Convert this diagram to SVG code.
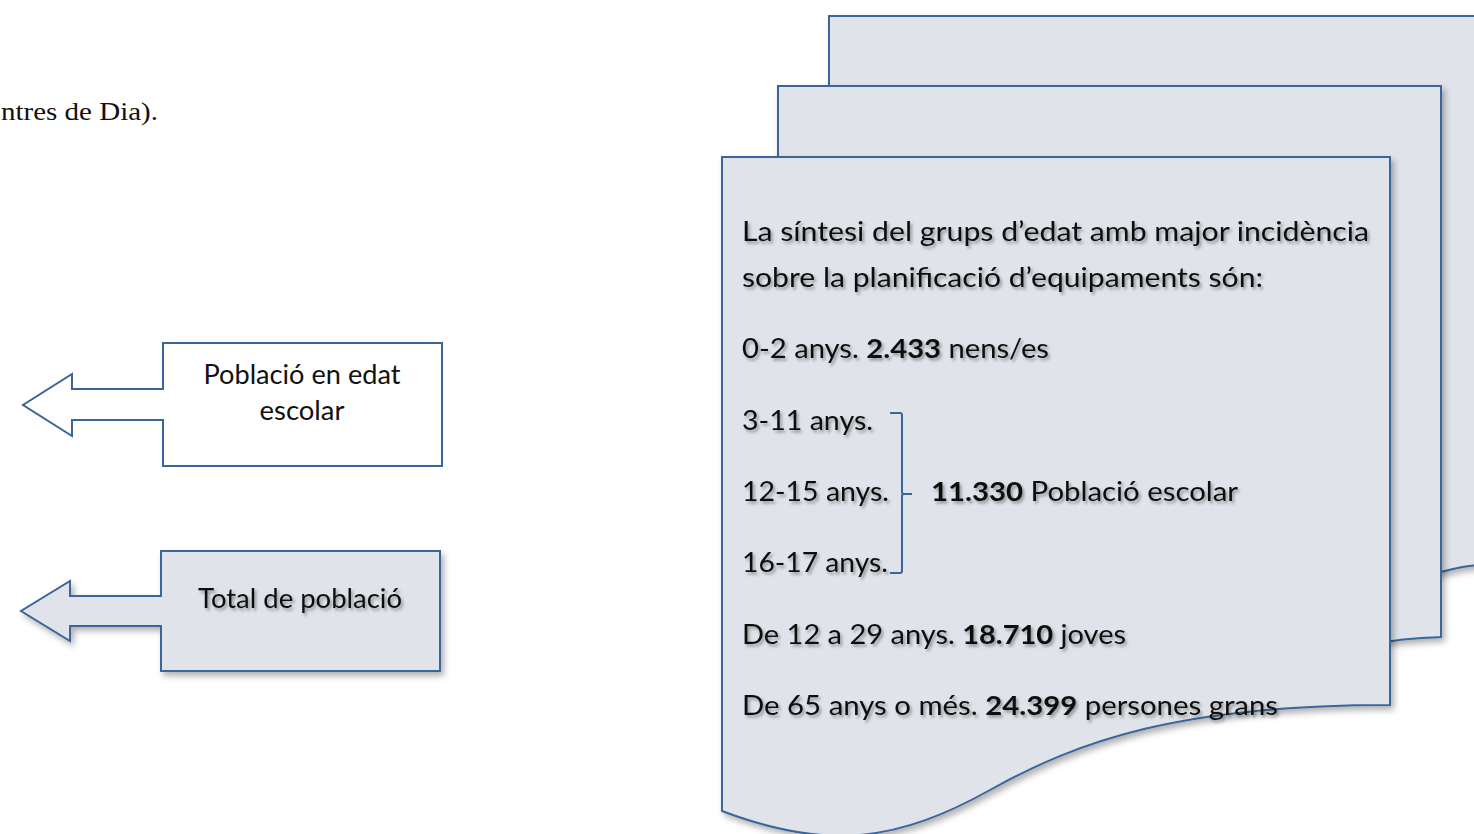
<svg xmlns="http://www.w3.org/2000/svg" width="1474" height="834" viewBox="0 0 1474 834">
<defs>
<filter id="sh" x="-10%" y="-10%" width="130%" height="130%">
<feDropShadow dx="3" dy="4" stdDeviation="3" flood-color="#000" flood-opacity="0.3"/>
</filter>
<filter id="tsh" x="-5%" y="-30%" width="110%" height="170%">
<feDropShadow dx="2" dy="2.5" stdDeviation="1.5" flood-color="#000" flood-opacity="0.35"/>
</filter>
</defs>
<style>
.shape{fill:#e0e3e9;stroke:#3a659b;stroke-width:2;stroke-linejoin:miter}
.white{fill:#ffffff;stroke:#3a659b;stroke-width:2}
.t{font-family:Lato,"Noto Sans",sans-serif;font-size:27px;fill:#111}
.b{font-weight:bold}
.serif{font-family:"Liberation Serif",serif;font-size:25px;fill:#111}
</style>
<rect width="1474" height="834" fill="#ffffff"/>
<text class="serif" x="1" y="120" textLength="157" lengthAdjust="spacingAndGlyphs">ntres de Dia).</text>

<g id="arrow-escolar">
<path class="white" d="M163,343 L442,343 L442,466 L163,466 L163,420 L72,420 L72,436 L23,405 L72,374 L72,389 L163,389 Z"/>
<text class="t" x="302" y="384" text-anchor="middle" textLength="197" lengthAdjust="spacingAndGlyphs">Població en edat</text>
<text class="t" x="302" y="420" text-anchor="middle" textLength="85" lengthAdjust="spacingAndGlyphs">escolar</text>
</g>

<g id="arrow-total">
<path class="shape" filter="url(#sh)" d="M161,551 L440,551 L440,671 L161,671 L161,626 L70,626 L70,641 L21,611 L70,581 L70,596 L161,596 Z"/>
<text class="t" x="300" y="608" text-anchor="middle" textLength="204" lengthAdjust="spacingAndGlyphs" filter="url(#tsh)">Total de població</text>
</g>

<g id="multidocument">
<path class="shape" filter="url(#sh)" d="M829,16 L1480,16 L1480,565 C 1462,566 1452,569 1441,572 L829,572 Z"/>
<path class="shape" filter="url(#sh)" d="M778,86 L1441,86 L1441,637 C 1420,638 1405,639 1392,641 L778,641 Z"/>
<path class="shape" filter="url(#sh)" d="M722,157 L1390,157 L1390,705 C 1180,705 1080,740 990,790 C 900,840 830,852 722,811 Z"/>
<g filter="url(#tsh)">
<text class="t" x="742" y="241" textLength="627" lengthAdjust="spacingAndGlyphs">La síntesi del grups d’edat amb major incidència</text>
<text class="t" x="742" y="287" textLength="521" lengthAdjust="spacingAndGlyphs">sobre la planificació d’equipaments són:</text>
<text class="t" x="742" y="358" textLength="307" lengthAdjust="spacingAndGlyphs">0-2 anys. <tspan class="b">2.433</tspan> nens/es</text>
<text class="t" x="742" y="430" textLength="131" lengthAdjust="spacingAndGlyphs">3-11 anys.</text>
<text class="t" x="742" y="501" textLength="147" lengthAdjust="spacingAndGlyphs">12-15 anys.</text>
<text class="t" x="742" y="572" textLength="146" lengthAdjust="spacingAndGlyphs">16-17 anys.</text>
<text class="t" x="931" y="501" textLength="307" lengthAdjust="spacingAndGlyphs"><tspan class="b">11.330</tspan> Població escolar</text>
<text class="t" x="742" y="644" textLength="384" lengthAdjust="spacingAndGlyphs">De 12 a 29 anys. <tspan class="b">18.710</tspan> joves</text>
<text class="t" x="742" y="715" textLength="536" lengthAdjust="spacingAndGlyphs">De 65 anys o més. <tspan class="b">24.399</tspan> persones grans</text>
</g>
</g>

<g id="connectors">
<path d="M890,413 L900,413 Q902,413 902,415 L902,492 Q902,494 904,494 L912,494 M904,494 Q902,494 902,496 L902,571 Q902,573 900,573 L890,573" fill="none" stroke="#3a659b" stroke-width="2"/>
</g>
</svg>
